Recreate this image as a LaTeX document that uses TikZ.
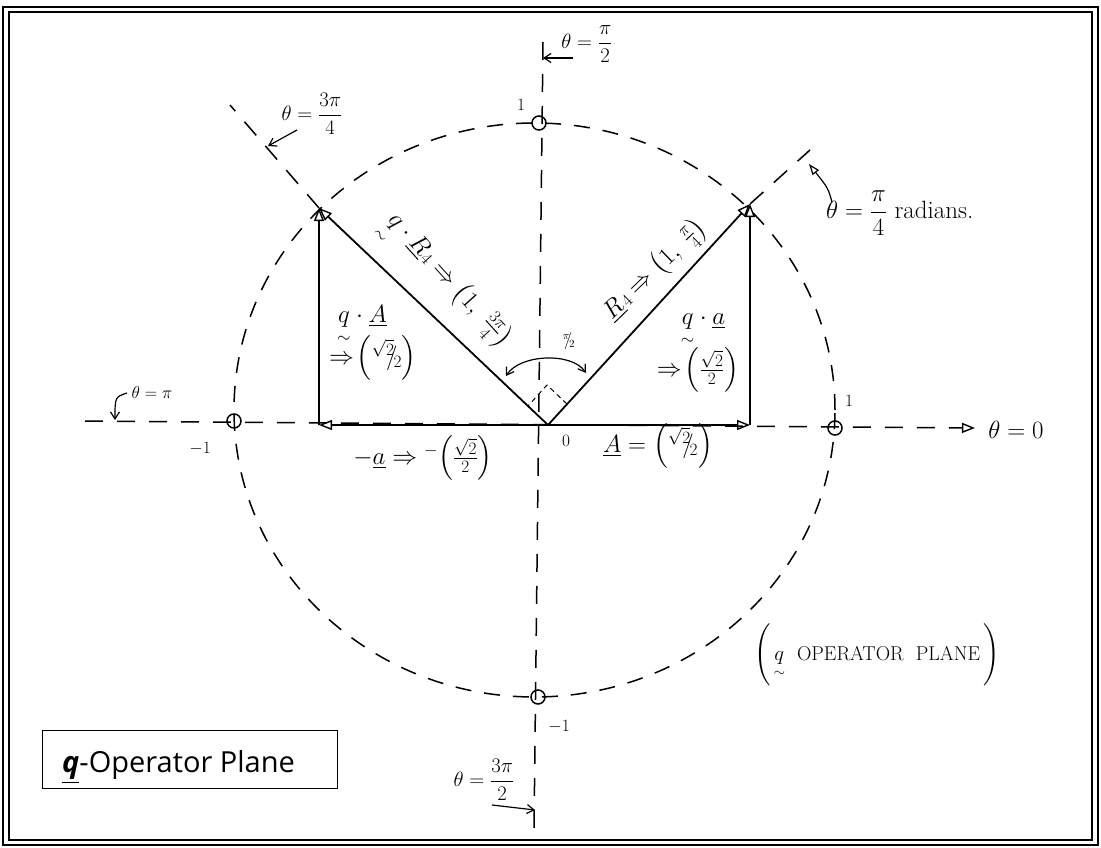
\documentclass[tikz,border=0pt]{standalone}
\usepackage{amsmath}
\usepackage{fontspec}
\newfontfamily\boxfont{Open Sans}
\usetikzlibrary{arrows.meta}
\newcommand\sfr[2]{{}^{#1}\!\!/\!{}_{#2}}
\newcommand\qop{\underset{\sim}{q}}
\newcommand\Rf{{\underline{R}}\mkern1mu\raisebox{-0.2ex}{$\scriptstyle 4$}}
\begin{document}
\begin{tikzpicture}[x=1pt,y=-1pt,
  vec/.style={line width=1.8pt,-{Triangle[open,length=13pt,width=10pt,line width=1.4pt]}},
  dsh/.style={line width=1.5pt,dash pattern=on 16pt off 13pt},
  axis/.style={line width=1.5pt,dash pattern=on 18pt off 14pt},
  lbl/.style={inner sep=0pt,font=\fontsize{25}{27}\selectfont},
  big/.style={inner sep=0pt,font=\fontsize{21}{23}\selectfont},
  sml/.style={inner sep=0pt,font=\fontsize{18}{20}\selectfont},
  mk/.style={circle,draw,line width=1.5pt,minimum size=14pt,inner sep=0pt},
  pt/.style={line width=1.2pt,-{Straight Barb[length=7pt,width=9pt,line width=1.2pt]}},
  opt/.style={line width=1.2pt,-{Triangle[open,length=11pt,width=8pt,line width=1.2pt]}},
  twoway/.style={line width=1.2pt,{Straight Barb[length=7pt,width=9pt,line width=1.2pt]}-{Straight Barb[length=7pt,width=9pt,line width=1.2pt]}}
]
\useasboundingbox (0,0) rectangle (1101,848);
% frame
\draw[line width=2.5pt] (3,7) rectangle (1098,845);
\draw[line width=1.2pt] (9,12) rectangle (1092,840);

% key points
\coordinate (O) at (548,425);
\coordinate (P1) at (750,204);
\coordinate (P2) at (319,208);
\coordinate (F1) at (750,425);
\coordinate (F2) at (319,425);
\coordinate (axL) at (85,421);
\coordinate (axR) at (975,428);
\coordinate (axT) at (543,42);
\coordinate (axB) at (534,830);
\coordinate (r1) at (810,150);
\coordinate (r2) at (230,105);

% dashed circle
\draw[dsh] (534.5,410) ellipse [x radius=300.5pt, y radius=287pt];

% axes
\draw[axis,-{Triangle[open,length=13pt,width=10pt,line width=1.4pt]}] (axL) -- (axR);
\draw[axis] (axT) -- (axB);
\draw[axis] (P1) -- (r1);
\draw[axis] (P2) -- (r2);

% axis markers
\node[mk] (m0) at (835,428) {};
\node[mk] (m90) at (539,123) {};
\node[mk] (m180) at (234,421) {};
\node[mk] (m270) at (538,697) {};

% vectors
\draw[vec] (O) -- (P1);
\draw[vec] (O) -- (P2);
\draw[vec] (F1) -- (P1);
\draw[vec] (F2) -- (P2);
\draw[vec] (O) -- (F1);
\draw[vec] (O) -- (F2);

% right angle marker
\coordinate (ra1) at (567,404);
\coordinate (ra2) at (528,406);
\coordinate (ra3) at (547,385);
\draw[line width=1pt,dash pattern=on 5pt off 4pt] (ra1) -- (ra3) -- (ra2);

% pi/2 arc
\coordinate (arcL) at (506,376);
\coordinate (arcR) at (586,373);
\draw[twoway] (arcL) .. controls (520,354) and (572,352) .. (arcR);
\node[inner sep=0pt,font=\fontsize{16}{18}\selectfont] (pihalf) at (569,341) {$\sfr{\pi}{2}$};

% axis numbers
\node[sml] (n1t) at (521,105) {$1$};
\node[sml] (n1l) at (200,449) {$-1$};
\node[sml] (n1r) at (849,401) {$1$};
\node[sml] (n1b) at (559,727) {$-1$};
\node[sml] (n0) at (566,441) {$0$};

% angle labels
\node[big] (t90) at (587,44) {$\theta=\dfrac{\pi}{2}$};
\coordinate (s90) at (573,58);
\coordinate (e90) at (543,58);
\draw[pt] (s90) -- (e90);

\node[big] (t135) at (312,114) {$\theta=\dfrac{3\pi}{4}$};
\coordinate (s135) at (297,130);
\coordinate (e135) at (268,146);
\draw[pt] (s135) -- (e135);

\node[lbl,anchor=west] (t45) at (826,213) {$\theta=\dfrac{\pi}{4}$ radians.};
\coordinate (s45) at (832,202);
\coordinate (e45) at (809,164);
\draw[opt] (s45) .. controls (828,188) .. (e45);

\node[sml] (t180) at (152,392) {$\theta=\pi$};
\coordinate (s180) at (127,393);
\coordinate (e180) at (115,420);
\draw[pt] (s180) .. controls (115,397) .. (e180);

\node[lbl,font=\fontsize{27}{29}\selectfont] (t0) at (1016,430) {$\theta=0$};

\node[big] (t270) at (484,780) {$\theta=\dfrac{3\pi}{2}$};
\coordinate (s270) at (492,805);
\coordinate (e270) at (535,810);
\draw[pt] (s270) -- (e270);

% vector labels
\node[lbl,rotate=-48] (lR2) at (444,284) {$\qop\cdot\Rf\Rightarrow\left(1,\ \frac{3\pi}{4}\right)$};
\node[lbl,rotate=44] (lR1) at (655,270) {$\Rf\Rightarrow\left(1,\ \frac{\pi}{4}\right)$};
\node[lbl] (lqA) at (362,325) {$\qop\cdot\underline{A}$};
\node[lbl] (lqA2) at (373,358) {$\Rightarrow\!\left(\sfr{\sqrt{2}}{2}\right)$};
\node[lbl] (lqa) at (703,330) {$\qop\cdot\underline{a}$};
\node[lbl] (lqa2) at (698,370) {$\Rightarrow\!\left(\frac{\sqrt{2}}{2}\right)$};
\node[lbl] (lma) at (423,458) {$-\underline{a}\Rightarrow{}^{-}\!\left(\frac{\sqrt{2}}{2}\right)$};
\node[lbl] (lA) at (658,446) {$\underline{A}=\left(\sfr{\sqrt{2}}{2}\right)$};

% plane caption
\node[inner sep=0pt,font=\fontsize{20}{22}\selectfont] (cap) at (877,655) {$\Bigg($\,$\qop$\ \ OPERATOR\ \ PLANE\,$\Bigg)$};

% box
\node[draw,line width=1pt,anchor=north west,minimum width=295pt,minimum height=58pt,inner sep=0pt] (box) at (42,730) {};
\node[anchor=base west,inner sep=0pt,font=\boxfont\fontsize{29}{31}\selectfont] (boxt) at (62,772) {\underline{\textbf{\textit{q}}}-Operator Plane};
\end{tikzpicture}
\end{document}
